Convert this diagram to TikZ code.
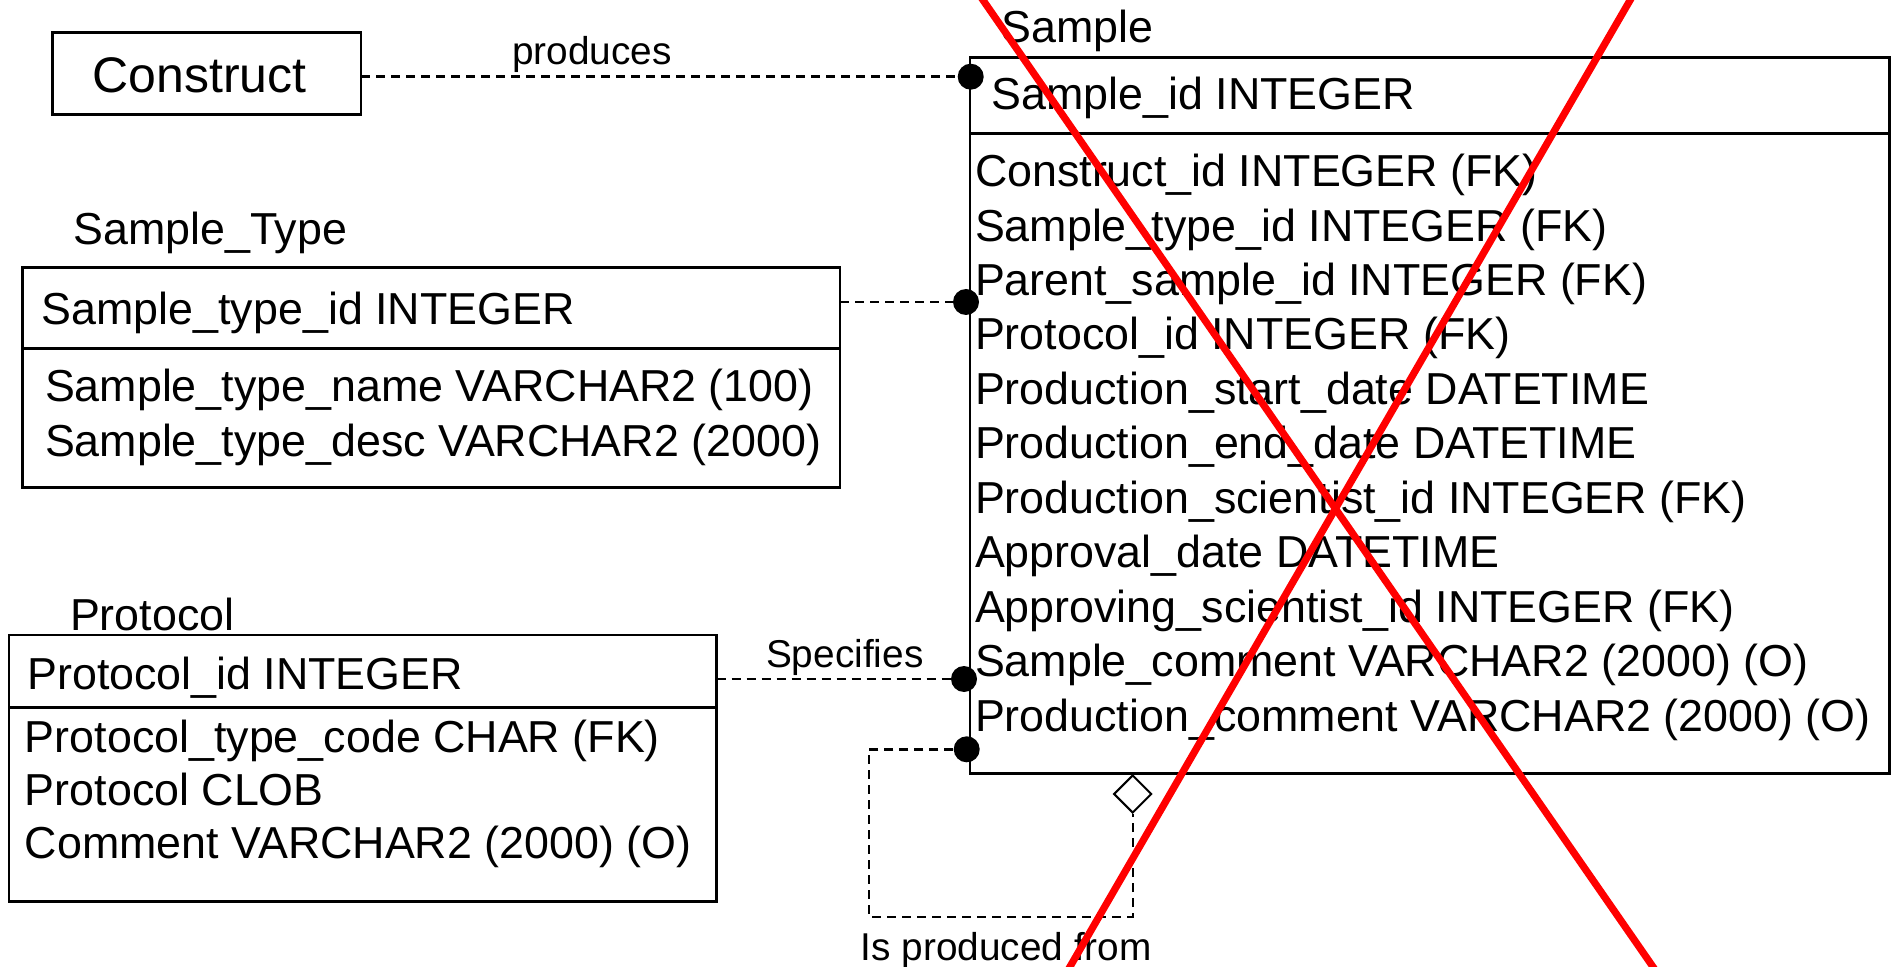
\documentclass[tikz,border=0pt]{standalone}
\usepackage{fontspec}
\setmainfont{Liberation Sans}
\usetikzlibrary{shapes.geometric}
\begin{document}
\begin{tikzpicture}[x=0.5pt,y=-0.5pt,
  ent/.style={draw, line width=1.35pt, rectangle, inner sep=0pt, outer sep=0pt, anchor=north west},
  sepline/.style={line width=1.35pt},
  txt/.style={inner sep=0pt, outer sep=0pt, anchor=base west, font=\fontsize{22.4pt}{26pt}\selectfont},
  big/.style={txt, font=\fontsize{25pt}{30pt}\selectfont},
  lbl/.style={txt, font=\fontsize{19.4pt}{23pt}\selectfont},
  dotn/.style={circle, fill=black, inner sep=0pt, minimum size=13pt},
  rel/.style={line width=1.2pt, dash pattern=on 4.5pt off 3pt},
  dia/.style={diamond, draw, fill=white, line width=1pt, inner sep=0pt, minimum width=19pt, minimum height=19pt},
  xline/.style={draw=red, line width=3.6pt}]
\useasboundingbox (0,0) rectangle (1894,967);

% Construct
\node[ent, minimum width=154.15pt, minimum height=41pt] (construct) at (52.7,32.3) {};
\node[big] (constructT) at (92.7,93) {Construct};

% Sample
\node[txt] (sampleTitle) at (1001.7,43) {Sample};
\node[ent, minimum width=459.65pt, minimum height=358pt] (sample) at (970,57.3) {};
\coordinate (sSep) at (970,133.3);
\draw[sepline] (sSep) -- (sSep -| sample.east);
\node[txt] (sampleH) at (991.7,110) {Sample\_id INTEGER};
\foreach \t [count=\i from 0] in {Construct\_id INTEGER (FK),
  Sample\_type\_id INTEGER (FK),
  Parent\_sample\_id INTEGER (FK),
  Protocol\_id INTEGER (FK),
  Production\_start\_date DATETIME,
  Production\_end\_date DATETIME,
  Production\_scientist\_id INTEGER (FK),
  Approval\_date DATETIME,
  Approving\_scientist\_id INTEGER (FK),
  Sample\_comment VARCHAR2 (2000) (O),
  Production\_comment VARCHAR2 (2000) (O)}
  {\node[txt] (sa\i) at (975,186.7+54.43*\i) {\t};}

% Sample_Type
\node[txt] (stTitle) at (73.3,245) {Sample\_Type};
\node[ent, minimum width=408.65pt, minimum height=110pt] (stype) at (22.7,267.3) {};
\coordinate (stSep) at (22.7,348.3);
\draw[sepline] (stSep) -- (stSep -| stype.east);
\node[txt] (stH) at (41.7,325) {Sample\_type\_id INTEGER};
\node[txt] (st1) at (45,401.7) {Sample\_type\_name VARCHAR2 (100)};
\node[txt] (st2) at (45,456.7) {Sample\_type\_desc VARCHAR2 (2000)};

% Protocol
\node[txt] (prTitle) at (70,630) {Protocol};
\node[ent, minimum width=353.75pt, minimum height=133.35pt] (proto) at (9,635) {};
\coordinate (prSep) at (9,707.3);
\draw[sepline] (prSep) -- (prSep -| proto.east);
\node[txt] (prH) at (27.3,689.3) {Protocol\_id INTEGER};
\node[txt] (pr1) at (25,752.3) {Protocol\_type\_code CHAR (FK)};
\node[txt] (pr2) at (25,805.5) {Protocol CLOB};
\node[txt] (pr3) at (25,858.7) {Comment VARCHAR2 (2000) (O)};

% relationship ends
\node[dotn] (d1) at (970.7,76.7) {};
\node[dotn] (d2) at (966,302) {};
\node[dotn] (d3) at (964,679) {};
\node[dotn] (d4) at (966.7,749.3) {};
\node[dia] (dm) at (1132.7,794) {};
\coordinate (lp) at (869,916.7);

\draw[rel] (construct.east |- d1) -- (d1);
\draw[rel] (stype.east |- d2) -- (d2);
\draw[rel] (proto.east |- d3) -- (d3);
\draw[rel] (d4) -| (lp) -| (dm.south);

% labels
\node[lbl] (lProd) at (512,64.6) {produces};
\node[lbl] (lSpec) at (766,667) {Specifies};
\node[lbl] (lIs) at (860.7,960) {Is produced from};

% red cross
\draw[xline] (976,-10) -- (1660,977);
\draw[xline] (1636,-10) -- (1064,977);
\end{tikzpicture}
\end{document}
